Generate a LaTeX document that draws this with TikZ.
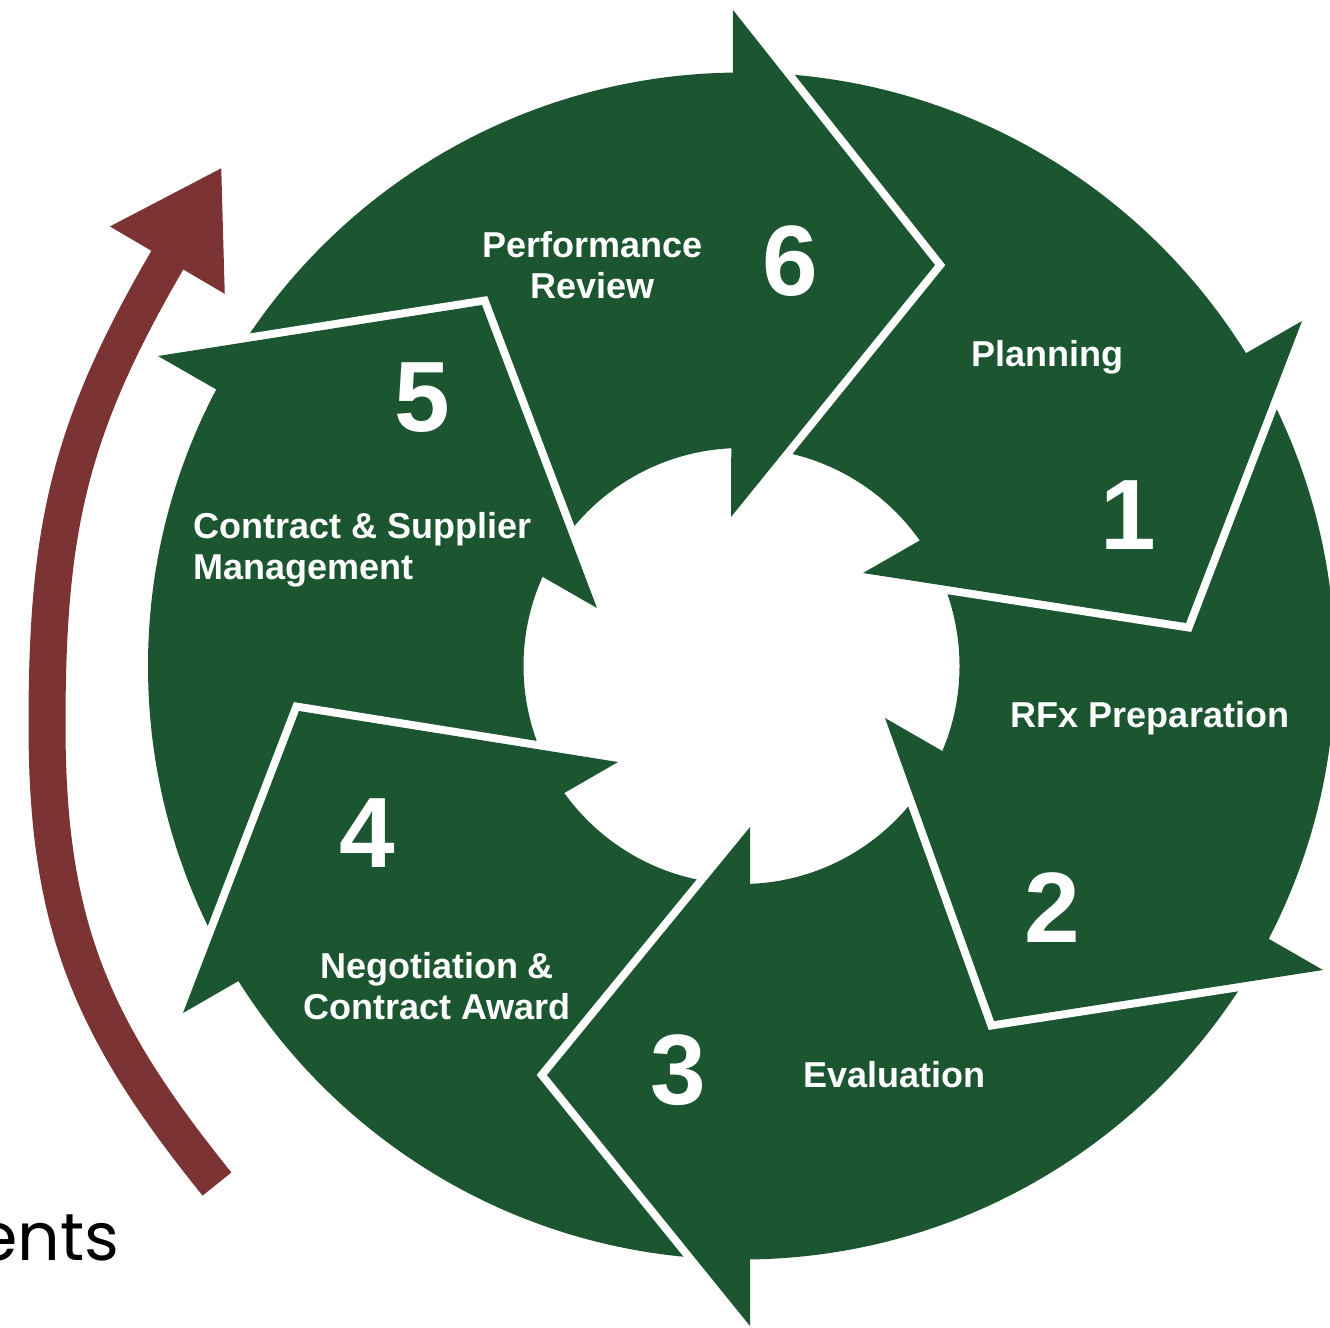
\documentclass[tikz,border=0pt]{standalone}
\usepackage{fontspec}
\setmainfont{Liberation Sans}
\newfontfamily\loopfont{Poppins}
\definecolor{cyclegreen}{RGB}{27,86,48}
\definecolor{loopred}{RGB}{123,51,51}
\usetikzlibrary{arrows.meta}

\tikzset{
  stagetext/.style={color=white, font=\fontsize{10.8}{12.3}\selectfont\bfseries, align=center, inner sep=0pt},
  stagenum/.style={color=white, font=\fontsize{30}{30}\selectfont\bfseries, inner sep=0pt},
  headfill/.style={fill=cyclegreen},
  headcut/.style={draw=white, line width=4.8pt, line join=miter},
}

\begin{document}
\begin{tikzpicture}[x=0.3pt,y=0.3pt,yscale=-1,xscale=1]
	\useasboundingbox (0,0) rectangle (1330,1327);

	%Shape: Ring [id:ring]
	\fill [cyclegreen, even odd rule] (741.5,666) circle [radius=593.5] (741.5,666) circle [radius=218];

	%Shape: Head 6 (Performance Review)
	\draw [headcut] (733,10) -- (935,265) -- (731,517);
	\fill [headfill] (733,10) -- (935,265) -- (731,517) -- cycle;
	%Shape: Head 1 (Planning)
	\draw [headcut] (1302,321) -- (1186,623) -- (863,573);
	\fill [headfill] (1302,321) -- (1186,623) -- (863,573) -- cycle;
	%Shape: Head 2 (RFx Preparation)
	\draw [headcut] (1323,970) -- (994,1021) -- (885,718);
	\fill [headfill] (1323,970) -- (994,1021) -- (885,718) -- cycle;
	%Shape: Head 3 (Evaluation)
	\draw [headcut] (750,1326) -- (547,1075) -- (750,827);
	\fill [headfill] (750,1326) -- (547,1075) -- (750,827) -- cycle;
	%Shape: Head 4 (Negotiation)
	\draw [headcut] (183,1013) -- (299,711) -- (618,762);
	\fill [headfill] (183,1013) -- (299,711) -- (618,762) -- cycle;
	%Shape: Head 5 (Contract management)
	\draw [headcut] (158,356) -- (482,305) -- (597,608);
	\fill [headfill] (158,356) -- (482,305) -- (597,608) -- cycle;

	%Curve Lines [id:loop]
	\coordinate (loop start) at (217,1184);
	\coordinate (loop tip) at (222,167);
	\draw [loopred, line width=11.1pt, -{Triangle[width=37.5pt,length=32.4pt]}] (loop start) .. controls (91,1028) and (47,925) .. (47,725) .. controls (47,525) and (70,426) .. (loop tip);

	% Text Node
	\node [stagetext] (review) at (592.5,265) {Performance\\Review};
	% Text Node
	\node [stagenum] (n6) at (790,261) {6};
	% Text Node
	\node [stagetext, anchor=base] (planning) at (1047,366) {Planning};
	% Text Node
	\node [stagenum] (n1) at (1128,515) {1};
	% Text Node
	\node [stagetext, anchor=base] (rfx) at (1150,727) {RFx Preparation};
	% Text Node
	\node [stagenum] (n2) at (1052,908) {2};
	% Text Node
	\node [stagetext, anchor=base] (evaluation) at (894.5,1087.5) {Evaluation};
	% Text Node
	\node [stagenum] (n3) at (678,1070) {3};
	% Text Node
	\node [stagetext] (award) at (437,986) {Negotiation \&\\Contract Award};
	% Text Node
	\node [stagenum] (n4) at (367,833) {4};
	% Text Node
	\node [stagetext, anchor=west, align=left] (management) at (193,549.5) {Contract \& Supplier\\Management};
	% Text Node
	\node [stagenum] (n5) at (422,398) {5};
	% Text Node
	\node [anchor=base east, inner sep=0pt, font=\loopfont\fontsize{20}{24}\selectfont] (loopword) at (120,1260) {ents};

\end{tikzpicture}
\end{document}
